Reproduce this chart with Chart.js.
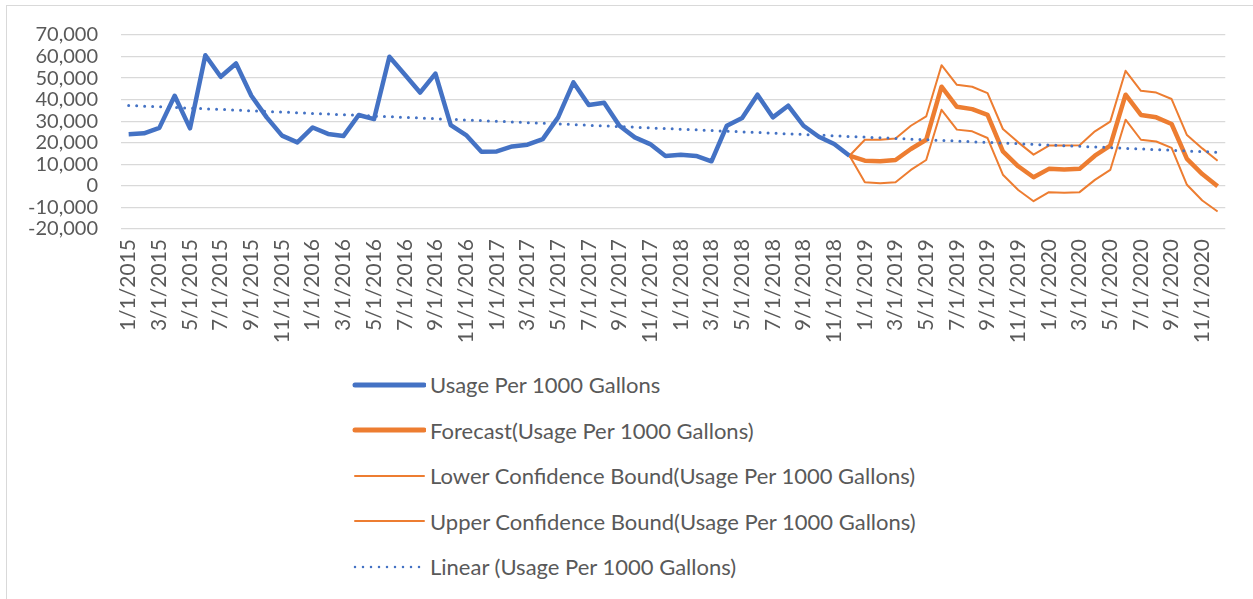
<!DOCTYPE html>
<html>
<head>
<meta charset="utf-8">
<script src="https://cdn.jsdelivr.net/npm/chart.js@4.4.1/dist/chart.umd.min.js"></script>
<style>
  html, body { margin: 0; padding: 0; background: #fff; }
  #frame {
    position: absolute; left: 6px; top: 5px; width: 1260px; height: 610px;
    border: 1px solid #d9d9d9; box-sizing: border-box;
  }
  #wrap { position: absolute; left: 0; top: 0; width: 1253px; height: 360px; }
  #legend {
    position: absolute; left: 352px; top: 362px;
    font-family: Lato, "Open Sans", sans-serif; font-size: 22px; color: #595959;
  }
  .item { height: 45.5px; display: flex; align-items: center; }
  .item svg { margin-right: 4px; }
</style>
</head>
<body>
<div id="frame"></div>
<div id="wrap"><canvas id="myChart"></canvas></div>
<div id="legend"></div>
<script>
/*------------------------------DATA--------------------------------------------*/

// months 1/1/2015 .. 12/1/2020
const labels = [];
for (let y = 2015; y <= 2020; y++) {
    for (let m = 1; m <= 12; m++) {
        labels.push(m + '/1/' + y);
    }
}

// actual usage, 1/2015 - 12/2018
const usage = [
    24000, 24400, 26900, 41800, 26700, 60600, 50600, 56800, 41800, 31800, 23300, 20200,
    27100, 24100, 23100, 32900, 31000, 59900, 51700, 43300, 52100, 28200, 23600, 15800,
    16000, 18300, 19100, 21700, 31800, 48000, 37500, 38600, 27900, 22500, 19400, 13900,
    14500, 13900, 11400, 27900, 31500, 42300, 31800, 37200, 27900, 22800, 19400, 14000
];

// forecast, 12/2018 - 12/2020
const forecast = [
    14000, 11700, 11400, 12000, 17100, 21400, 46000, 36700, 35600, 32900, 16000, 9100,
    4000, 7900, 7600, 7900, 14000, 18700, 42300, 32900, 31800, 28700, 12500, 5500, -200
];
const lowerBound = [
    14000, 1700, 1200, 1700, 7400, 12000, 35300, 26100, 25300, 22200, 5200, -1900,
    -7100, -2900, -3200, -2900, 2800, 7400, 30700, 21400, 20600, 17600, 500, -6800, -11900
];
const upperBound = [
    14000, 21400, 21400, 22000, 27900, 32200, 56000, 46900, 46000, 43000, 26400, 20200,
    14500, 18700, 18700, 18900, 25300, 29800, 53400, 44100, 43300, 40300, 23600, 17400, 11700
];

// linear trendline ends (first and last month)
const trendStart = 37300;
const trendEnd = 15600;

/*------------------------------SERIES------------------------------------------*/

const forecastStart = usage.length - 1;
function pad(values, start) {
    const out = new Array(labels.length).fill(null);
    values.forEach((v, i) => { out[start + i] = v; });
    return out;
}

const BLUE = '#4472C4';
const ORANGE = '#ED7D31';

const data = {
    labels: labels,
    datasets: [
        {
            label: 'Usage Per 1000 Gallons',
            data: pad(usage, 0),
            borderColor: BLUE,
            borderWidth: 4.5,
            order: 3
        },
        {
            label: 'Forecast(Usage Per 1000 Gallons)',
            data: pad(forecast, forecastStart),
            borderColor: ORANGE,
            borderWidth: 4.5,
            order: 2
        },
        {
            label: 'Lower Confidence Bound(Usage Per 1000 Gallons)',
            data: pad(lowerBound, forecastStart),
            borderColor: ORANGE,
            borderWidth: 2,
            order: 4
        },
        {
            label: 'Upper Confidence Bound(Usage Per 1000 Gallons)',
            data: pad(upperBound, forecastStart),
            borderColor: ORANGE,
            borderWidth: 2,
            order: 5
        },
        {
            label: 'Linear (Usage Per 1000 Gallons)',
            data: [
                { x: labels[0], y: trendStart },
                { x: labels[labels.length - 1], y: trendEnd }
            ],
            borderColor: BLUE,
            borderWidth: 3,
            borderDash: [0, 8],
            borderCapStyle: 'round',
            order: 1
        }
    ]
};

const font = { family: 'Lato, "Open Sans", sans-serif', size: 20 };

const config = {
    type: 'line',
    data: data,
    options: {
        responsive: true,
        maintainAspectRatio: false,
        animation: false,
        layout: { padding: { left: 0, right: 27, top: 34, bottom: 0 } },
        elements: {
            point: { radius: 0, hoverRadius: 0 },
            line: { tension: 0, borderJoinStyle: 'round', fill: false }
        },
        plugins: {
            legend: { display: false },
            tooltip: { enabled: false }
        },
        scales: {
            x: {
                offset: true,
                grid: { display: false, drawTicks: false },
                border: { display: false },
                ticks: {
                    autoSkip: false,
                    maxRotation: 90,
                    minRotation: 90,
                    padding: 10,
                    color: '#595959',
                    font: { family: font.family, size: 21 },
                    callback: function (val, i) { return i % 2 === 0 ? labels[i] : ''; }
                },
                afterFit: function (scale) { scale.height = 131; }
            },
            y: {
                min: -20000,
                max: 70000,
                grid: { color: '#d9d9d9', lineWidth: 1.3, drawTicks: false },
                border: { display: false },
                ticks: {
                    stepSize: 10000,
                    autoSkip: false,
                    padding: 23,
                    color: '#595959',
                    font: font,
                    callback: function (v) { return v.toLocaleString('en-US'); }
                },
                afterFit: function (scale) { scale.width = 121; }
            }
        }
    }
};

const myChart = new Chart(document.getElementById('myChart'), config);

/*------------------------------LEGEND------------------------------------------*/

const legend = document.getElementById('legend');
data.datasets.forEach(ds => {
    const row = document.createElement('div');
    row.className = 'item';
    const dotted = ds.borderDash ? 'stroke-dasharray="0 8" ' : '';
    const w = ds.borderDash ? 2.5 : ds.borderWidth + (ds.borderWidth > 3 ? 0.5 : 0);
    row.innerHTML =
        '<svg width="74" height="12"><line x1="3" y1="6" x2="72" y2="6" stroke="' + ds.borderColor +
        '" stroke-width="' + w + '" stroke-linecap="round" ' + dotted + '/></svg>' +
        '<span>' + ds.label + '</span>';
    legend.appendChild(row);
});
</script>
</body>
</html>
